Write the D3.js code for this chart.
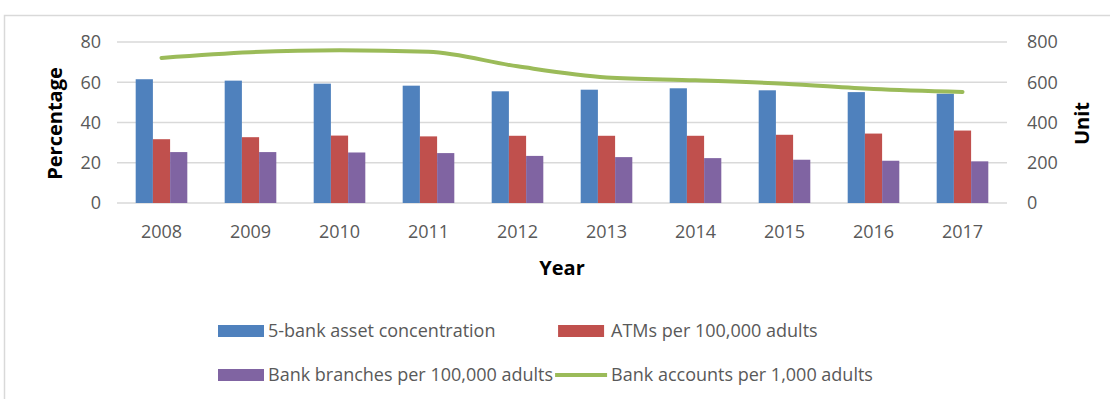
<!DOCTYPE html>
<html>
<head>
<meta charset="utf-8">
<script src="https://cdn.jsdelivr.net/npm/d3@7"></script>
<style>
  html, body { margin: 0; padding: 0; background: #fff; }
  svg text { font-family: "Open Sans", "DejaVu Sans", sans-serif; }
</style>
</head>
<body>
<svg id="chart" width="1110" height="399"></svg>
<script>
// Banking indicators, 2008-2017
const years = ["2008", "2009", "2010", "2011", "2012", "2013", "2014", "2015", "2016", "2017"];
const assetConcentration = [61.5, 60.8, 59.3, 58.3, 55.5, 56.3, 57.0, 56.0, 55.1, 54.3];
const atmsPer100k = [31.7, 32.7, 33.5, 33.1, 33.4, 33.4, 33.4, 33.9, 34.5, 36.0];
const branchesPer100k = [25.3, 25.3, 25.1, 24.8, 23.4, 22.8, 22.3, 21.5, 21.0, 20.7];
const accountsPer1k = [721, 749, 759, 751, 679, 624, 610, 593, 567, 552];
const leftTicks = [0, 20, 40, 60, 80];
const rightTicks = [0, 200, 400, 600, 800];

const barSeries = [
  { name: "5-bank asset concentration", values: assetConcentration, color: "#4F81BD" },
  { name: "ATMs per 100,000 adults", values: atmsPer100k, color: "#C0504D" },
  { name: "Bank branches per 100,000 adults", values: branchesPer100k, color: "#8064A2" }
];
const lineSeries = { name: "Bank accounts per 1,000 adults", values: accountsPer1k, color: "#9BBB59" };

const svg = d3.select("#chart");
const W = 1110, H = 399;
const plot = { left: 117, right: 1007, top: 42, bottom: 203 };
const tickFont = "18px";

// outer frame
svg.append("path")
  .attr("d", `M4.5,${H} V15.5 H${W}`)
  .attr("fill", "none")
  .attr("stroke", "#D9D9D9")
  .attr("stroke-width", 1.5);

const x0 = d3.scaleBand().domain(years)
  .range([plot.left, plot.right])
  .paddingInner(0.42).paddingOuter(0.21);
const x1 = d3.scaleBand().domain(d3.range(barSeries.length))
  .range([0, x0.bandwidth()]);
const yL = d3.scaleLinear().domain([0, 80]).range([plot.bottom, plot.top]);
const yR = d3.scaleLinear().domain([0, 800]).range([plot.bottom, plot.top]);

// gridlines
svg.append("g")
  .selectAll("line").data(leftTicks).join("line")
  .attr("x1", plot.left).attr("x2", plot.right)
  .attr("y1", d => yL(d)).attr("y2", d => yL(d))
  .attr("stroke", "#D9D9D9").attr("stroke-width", 1.5);

// left axis
const leftAxis = svg.append("g")
  .attr("transform", `translate(${plot.left - 16},0)`)
  .call(d3.axisLeft(yL).tickValues(leftTicks).tickSize(0).tickPadding(0));
leftAxis.select(".domain").remove();
leftAxis.selectAll("text").attr("fill", "#595959").style("font-size", tickFont);

// right axis
const rightAxis = svg.append("g")
  .attr("transform", `translate(${plot.right + 20},0)`)
  .call(d3.axisRight(yR).tickValues(rightTicks).tickSize(0).tickPadding(0));
rightAxis.select(".domain").remove();
rightAxis.selectAll("text").attr("fill", "#595959").style("font-size", tickFont);

// bottom axis
const bottomAxis = svg.append("g")
  .attr("transform", `translate(0,${plot.bottom + 22})`)
  .call(d3.axisBottom(x0).tickSize(0).tickPadding(0));
bottomAxis.select(".domain").remove();
bottomAxis.selectAll("text").attr("fill", "#595959").style("font-size", tickFont);

// bars
const groups = svg.append("g").selectAll("g").data(years).join("g")
  .attr("transform", d => `translate(${x0(d)},0)`);
groups.selectAll("rect")
  .data((d, i) => barSeries.map((s, k) => ({ k, v: s.values[i], color: s.color })))
  .join("rect")
  .attr("x", d => x1(d.k))
  .attr("width", x1.bandwidth())
  .attr("y", d => yL(d.v))
  .attr("height", d => yL(0) - yL(d.v))
  .attr("fill", d => d.color);

// line on secondary axis
const line = d3.line()
  .x((d, i) => x0(years[i]) + x0.bandwidth() / 2)
  .y(d => yR(d))
  .curve(d3.curveMonotoneX);
svg.append("path")
  .datum(lineSeries.values)
  .attr("d", line)
  .attr("fill", "none")
  .attr("stroke", lineSeries.color)
  .attr("stroke-width", 4)
  .attr("stroke-linecap", "round");

// axis titles
svg.append("text")
  .attr("transform", `translate(62,${(plot.top + plot.bottom) / 2 + 1}) rotate(-90)`)
  .attr("text-anchor", "middle")
  .style("font-size", "20px").style("font-weight", "bold")
  .attr("fill", "#000")
  .text("Percentage");
svg.append("text")
  .attr("transform", `translate(1089,${(plot.top + plot.bottom) / 2 + 1}) rotate(-90)`)
  .attr("text-anchor", "middle")
  .style("font-size", "20px").style("font-weight", "bold")
  .attr("fill", "#000")
  .text("Unit");
svg.append("text")
  .attr("x", (plot.left + plot.right) / 2)
  .attr("y", 275)
  .attr("text-anchor", "middle")
  .style("font-size", "20px").style("font-weight", "bold")
  .attr("fill", "#000")
  .text("Year");

// legend
const legend = svg.append("g");
function addText(x, y, str) {
  return legend.append("text").attr("x", x).attr("y", y).attr("dy", "0.35em")
    .style("font-size", tickFont).attr("fill", "#595959").text(str);
}
const row1 = 331, row2 = 375, col1 = 218;
const swW = 46, swH = 12;

legend.append("rect").attr("x", col1).attr("y", row1 - swH / 2).attr("width", swW).attr("height", swH).attr("fill", barSeries[0].color);
addText(col1 + swW + 4, row1, barSeries[0].name);

legend.append("rect").attr("x", col1).attr("y", row2 - swH / 2).attr("width", swW).attr("height", swH).attr("fill", barSeries[2].color);
const t3 = addText(col1 + swW + 4, row2, barSeries[2].name);
const col2 = col1 + swW + 4 + t3.node().getComputedTextLength() + 2;

legend.append("rect").attr("x", col2 + 3).attr("y", row1 - swH / 2).attr("width", swW).attr("height", swH).attr("fill", barSeries[1].color);
addText(col2 + swW + 10, row1, barSeries[1].name);

legend.append("line").attr("x1", col2).attr("x2", col2 + swW + 6).attr("y1", row2).attr("y2", row2)
  .attr("stroke", lineSeries.color).attr("stroke-width", 4);
addText(col2 + swW + 10, row2, lineSeries.name);
</script>
</body>
</html>
